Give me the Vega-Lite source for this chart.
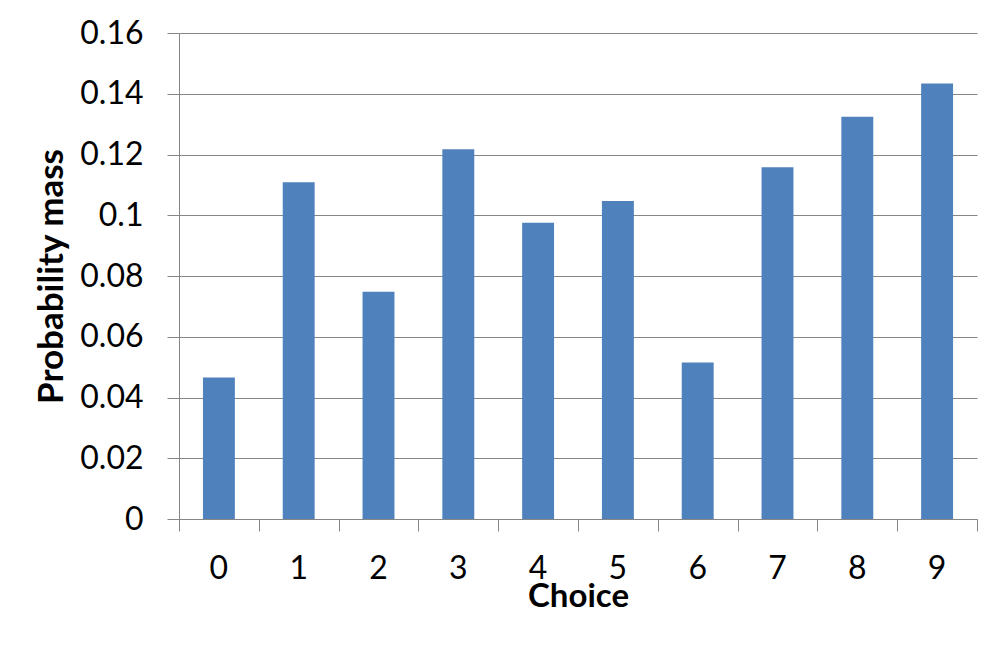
{
  "$schema": "https://vega.github.io/schema/vega-lite/v6.json",
  "autosize": "none",
  "padding": {"left": 179, "top": 33, "right": 22, "bottom": 148},
  "width": 798,
  "height": 486,
  "background": "white",
  "config": {
    "view": {"stroke": null},
    "font": "Lato",
    "axis": {
      "labelFont": "Lato",
      "titleFont": "Lato",
      "labelColor": "#000000",
      "titleColor": "#000000",
      "domainColor": "#868686",
      "tickColor": "#868686",
      "gridColor": "#868686",
      "domainWidth": 1,
      "tickWidth": 1,
      "gridWidth": 1
    }
  },
  "data": {
    "values": [
      {"choice": 0, "p": 0.0466},
      {"choice": 1, "p": 0.1109},
      {"choice": 2, "p": 0.0748},
      {"choice": 3, "p": 0.1217},
      {"choice": 4, "p": 0.0975},
      {"choice": 5, "p": 0.1047},
      {"choice": 6, "p": 0.0515},
      {"choice": 7, "p": 0.1158},
      {"choice": 8, "p": 0.1324},
      {"choice": 9, "p": 0.1434}
    ]
  },
  "encoding": {
    "y": {
      "field": "p",
      "type": "quantitative",
      "scale": {"domain": [0, 0.16], "nice": false},
      "axis": {
        "values": [0, 0.02, 0.04, 0.06, 0.08, 0.1, 0.12, 0.14, 0.16],
        "format": "~f",
        "grid": true,
        "tickSize": 12,
        "labelPadding": 24,
        "labelFontSize": 32,
        "title": "Probability mass",
        "titleFontSize": 35,
        "titleFontWeight": "bold",
        "titlePadding": 10,
        "domain": true
      }
    }
  },
  "layer": [
    {
      "mark": {"type": "point", "opacity": 0},
      "encoding": {
        "x": {
          "field": "choice",
          "type": "quantitative",
          "scale": {"domain": [-0.5, 9.5], "nice": false, "zero": false},
          "axis": {
            "orient": "bottom",
            "values": [-0.5, 0.5, 1.5, 2.5, 3.5, 4.5, 5.5, 6.5, 7.5, 8.5, 9.5],
            "labels": false,
            "ticks": true,
            "tickSize": 12,
            "domain": true,
            "grid": false,
            "title": null
          }
        }
      }
    },
    {
      "mark": {"type": "bar", "color": "#4F81BD"},
      "encoding": {
        "x": {
          "field": "choice",
          "type": "ordinal",
          "scale": {"paddingInner": 0.6, "paddingOuter": 0.3},
          "axis": {
            "orient": "bottom",
            "labelAngle": 0,
            "labelFontSize": 32,
            "labelPadding": 34,
            "ticks": false,
            "domain": false,
            "title": "Choice",
            "titleFontSize": 33,
            "titleFontWeight": "bold",
            "titlePadding": -4
          }
        }
      }
    }
  ],
  "resolve": {"scale": {"x": "independent"}, "axis": {"x": "independent"}}
}
